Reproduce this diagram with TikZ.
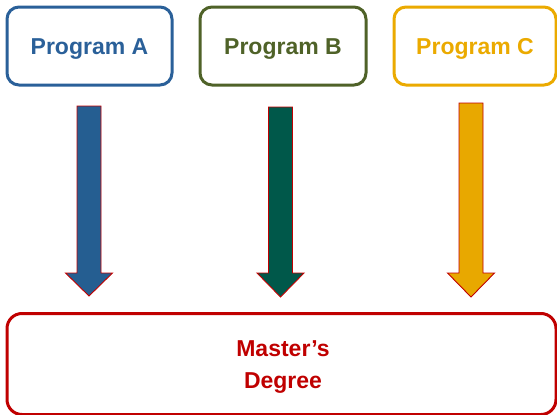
\documentclass[tikz,border=0pt]{standalone}
\usepackage{fontspec}
\setmainfont{Liberation Sans}
\definecolor{cA}{HTML}{2A6099}
\definecolor{cB}{HTML}{4F6228}
\definecolor{cC}{HTML}{EBAA00}
\definecolor{fA}{HTML}{255E91}
\definecolor{fB}{HTML}{00584A}
\definecolor{fC}{HTML}{E8A800}
\definecolor{cR}{HTML}{C00000}
\begin{document}
\begin{tikzpicture}[x=1pt,y=-1pt,
  progbox/.style={draw, line width=3pt, rounded corners=12pt, fill=white,
    font=\fontsize{23}{27}\selectfont\bfseries, align=center, inner sep=0pt,
    text height=16.5pt, text depth=0pt},
  arrowshape/.style={draw=cR, line width=0.9pt, line join=miter}]
\useasboundingbox (0,0) rectangle (557,415);
% program boxes
\node[progbox, draw=cA, text=cA, minimum width=165pt, minimum height=78pt] (pa) at (89.5,46) {Program A};
\node[progbox, draw=cB, text=cB, minimum width=166pt, minimum height=78pt] (pb) at (283,46) {Program B};
\node[progbox, draw=cC, text=cC, minimum width=162pt, minimum height=78pt] (pc) at (475,46) {Program C};
% master box
\node[progbox, draw=cR, text=cR, rounded corners=15pt, minimum width=549pt, minimum height=101pt] (md) at (281.5,364) {};
\node[text=cR, font=\fontsize{23}{32}\selectfont\bfseries, align=center, inner sep=0pt] (mdt) at (283,367) {Master’s\\Degree};
% block arrows
\newcommand{\blockarrow}[5]{% cx, top, headbase, tip, fill
  \filldraw[arrowshape, fill=#5] (#1-12,#2) -- (#1+12,#2) -- (#1+12,#3) -- (#1+23.5,#3)
    -- (#1,#4) -- (#1-23.5,#3) -- (#1-12,#3) -- cycle;}
\blockarrow{89}{106}{273}{296}{fA}
\blockarrow{280.5}{107}{273}{297}{fB}
\blockarrow{471}{103}{273}{297}{fC}
\end{tikzpicture}
\end{document}
